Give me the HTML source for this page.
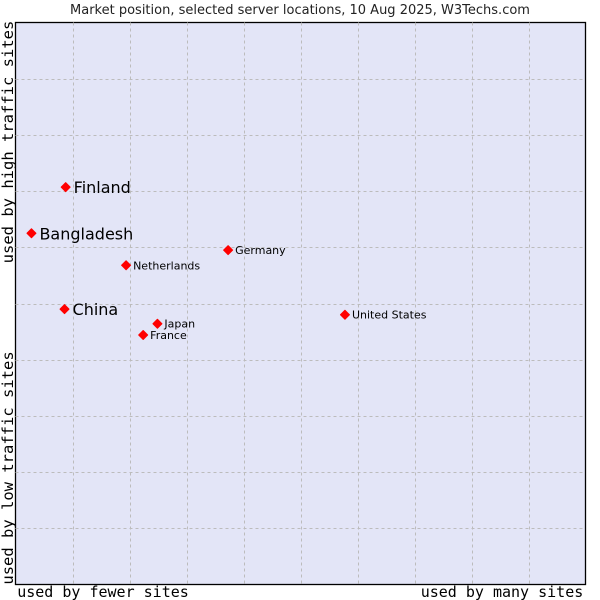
<!DOCTYPE html>
<html><head><meta charset="utf-8"><style>
html,body{margin:0;padding:0;background:#fff;width:600px;height:600px;overflow:hidden}
svg{display:block}
</style></head><body>
<svg id="chart" width="600" height="600" xmlns="http://www.w3.org/2000/svg">
<rect x="0" y="0" width="600" height="600" fill="#fff"/>
<text x="300" y="14" text-anchor="middle" font-family="DejaVu Sans, sans-serif" font-size="13" fill="#222">Market position, selected server locations, 10 Aug 2025, W3Techs.com</text>
<rect x="15.5" y="22.5" width="570" height="562" fill="#e3e5f7" stroke="#000" stroke-width="1.3"/>
<g id="grid"></g>
<g id="marks"></g>
<text x="103" y="597" text-anchor="middle" font-family="DejaVu Sans Mono, Liberation Mono, monospace" font-size="15" fill="#000">used by fewer sites</text>
<text x="502" y="597" text-anchor="middle" font-family="DejaVu Sans Mono, Liberation Mono, monospace" font-size="15" fill="#000">used by many sites</text>
<text transform="translate(13,142) rotate(-90)" text-anchor="middle" font-family="DejaVu Sans Mono, Liberation Mono, monospace" font-size="15.5" fill="#000">used by high traffic sites</text>
<text transform="translate(13,468) rotate(-90)" text-anchor="middle" font-family="DejaVu Sans Mono, Liberation Mono, monospace" font-size="15.5" fill="#000">used by low traffic sites</text>
</svg>
<script>
const countries = ["Finland","Bangladesh","Netherlands","Germany","China","Japan","France","United States"];
const siteShare = [8.8, 2.8, 19.4, 37.3, 8.6, 24.9, 22.4, 57.8];
const trafficScore = [70.7, 62.5, 56.8, 59.5, 49.0, 46.4, 44.4, 48.0];
const highlighted = [true, true, false, false, true, false, false, false];

const X0=15.5, X1=585.5, Y0=584.5, Y1=22.5;
function xScale(v){return X0+(X1-X0)*v/100;}
function yScale(v){return Y0-(Y0-Y1)*v/100;}
const NS="http://www.w3.org/2000/svg";
const grid=document.getElementById('grid');
for(let i=1;i<10;i++){
  const gx=Math.round(xScale(i*10))+0.5, gy=Math.round(yScale(i*10))+0.5;
  const v=document.createElementNS(NS,'line');
  v.setAttribute('x1',gx);v.setAttribute('x2',gx);v.setAttribute('y1',Y1);v.setAttribute('y2',Y0);
  v.setAttribute('stroke','#bcbcbc');v.setAttribute('stroke-dasharray','3,3');
  
  
  grid.appendChild(v);
  const h=document.createElementNS(NS,'line');
  h.setAttribute('x1',X0);h.setAttribute('x2',X1);h.setAttribute('y1',gy);h.setAttribute('y2',gy);
  h.setAttribute('stroke','#bcbcbc');h.setAttribute('stroke-dasharray','3,3');
  
  
  grid.appendChild(h);
}
const marks=document.getElementById('marks');
countries.forEach((c,i)=>{
  const cx=xScale(siteShare[i]), cy=yScale(trafficScore[i]);
  const p=document.createElementNS(NS,'path');
  p.setAttribute('d',`M${cx-4.5},${cy} L${cx},${cy-4.5} L${cx+4.5},${cy} L${cx},${cy+4.5} Z`);
  p.setAttribute('fill','#f00');
  p.setAttribute('stroke','#f00');
  p.setAttribute('stroke-width','1');
  p.setAttribute('stroke-linejoin','round');
  
  
  marks.appendChild(p);
  const t=document.createElementNS(NS,'text');
  const big=highlighted[i];
  t.setAttribute('x',cx+(big?8:7));
  t.setAttribute('y',cy+(big?6:4));
  t.setAttribute('font-family','DejaVu Sans, sans-serif');
  t.setAttribute('font-size',big?16:11);
  t.setAttribute('fill','#000');
  t.textContent=c;
  
  
  marks.appendChild(t);
});
</script>
</body></html>
